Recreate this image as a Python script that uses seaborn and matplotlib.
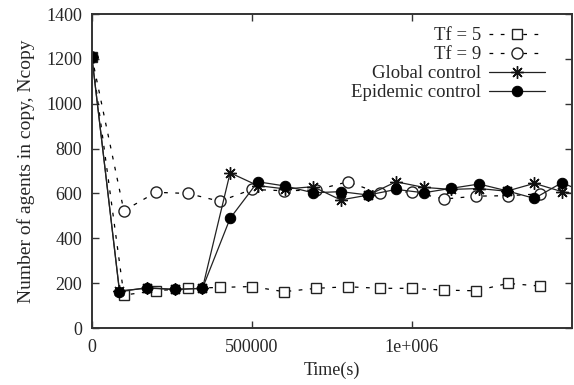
import seaborn as sns
from matplotlib import pyplot as plt

# Tf series sampled every 100000 s
tf_time = [0, 100000, 200000, 300000, 400000, 500000, 600000, 700000,
           800000, 900000, 1000000, 1100000, 1200000, 1300000, 1400000]
tf5 = [1210, 147, 166, 177, 181, 185, 162, 177, 184, 177, 177, 169, 166, 199, 187]
tf9 = [1210, 523, 605, 600, 565, 618, 612, 615, 652, 600, 608, 575, 588, 590, 598]

# control series sampled once a day (86400 s)
ctrl_time = [86400 * k for k in range(19)]
global_ctrl = [1210, 165, 178, 172, 177, 692, 635, 620, 630, 571, 593, 652, 627,
               618, 622, 610, 645, 608, 585]
epidemic_ctrl = [1210, 162, 180, 172, 177, 489, 652, 633, 603, 608, 593, 618, 603,
                 623, 642, 612, 578, 648, 595]

sns.set_style('ticks')
plt.rcParams['font.family'] = ['Liberation Serif', 'DejaVu Serif']
plt.rcParams['font.size'] = 13

fig = plt.figure(figsize=(5.74, 3.85), dpi=100)
ax = fig.add_axes([0.160, 0.148, 0.8365, 0.8156])

dash = (0, (3, 6))
sns.lineplot(x=tf_time, y=tf5, ax=ax, color='black', linewidth=0.9, linestyle=dash,
             marker='s', markersize=7, markerfacecolor='white', markeredgecolor='#222222',
             markeredgewidth=1.0, label='Tf = 5')
sns.lineplot(x=tf_time, y=tf9, ax=ax, color='black', linewidth=0.9, linestyle=dash,
             marker='o', markersize=8, markerfacecolor='white', markeredgecolor='#222222',
             markeredgewidth=1.0, label='Tf = 9')
sns.lineplot(x=ctrl_time, y=global_ctrl, ax=ax, color='#222222', linewidth=0.9,
             marker=(8, 2, 0), markersize=9, markeredgecolor='#111111',
             markeredgewidth=1.0, label='Global control')
sns.lineplot(x=ctrl_time, y=epidemic_ctrl, ax=ax, color='#222222', linewidth=0.9,
             marker='o', markersize=7.5, markerfacecolor='black', markeredgecolor='black',
             label='Epidemic control')

ax.set_xlim(0, 1500000)
ax.set_ylim(0, 1400)
ax.set_xticks([0, 500000, 1000000])
ax.set_xticklabels(['0', '500000', '1e+006'])
ax.set_yticks(range(0, 1401, 200))
ax.tick_params(direction='in', top=True, right=True, length=5, width=1, labelsize=13,
               color='#333333')
ax.tick_params(axis='y', pad=7)
ax.tick_params(axis='x', pad=8)
for spine in ax.spines.values():
    spine.set_linewidth(1.4)
    spine.set_color('#333333')

ax.set_xlabel('Time(s)', fontsize=13, labelpad=4)
ax.set_ylabel('Number of agents in copy, Ncopy', fontsize=14, labelpad=8)

leg = ax.legend(loc='upper right', bbox_to_anchor=(0.963, 0.988), frameon=False,
                markerfirst=False, handlelength=3.0, labelspacing=0.1, borderpad=0,
                handletextpad=0.4, fontsize=13.5)
for column in leg._legend_box.get_children()[1].get_children():
    column.align = 'right'

fig.savefig('out.png', dpi=100)
